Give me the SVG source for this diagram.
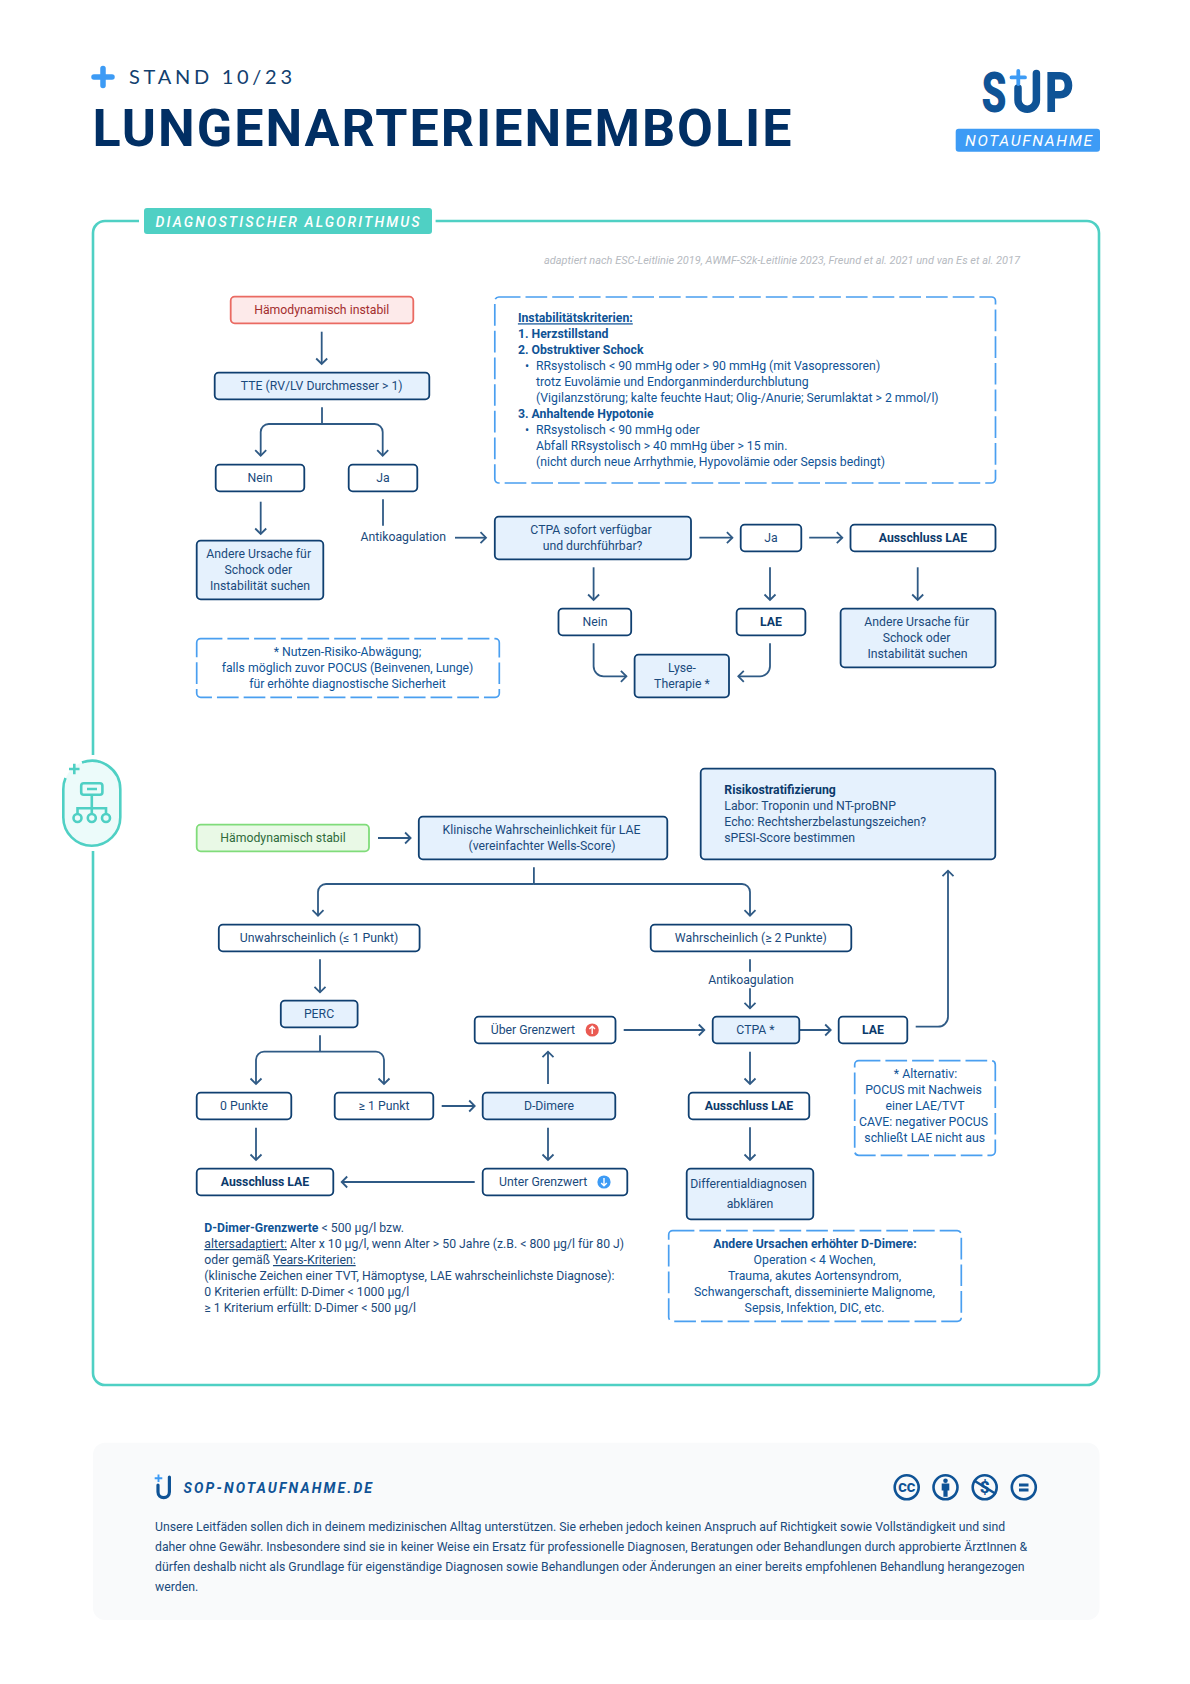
<svg xmlns="http://www.w3.org/2000/svg" width="1190" height="1684" viewBox="0 0 1190 1684">
<style>
text{font-family:Roboto,"Liberation Sans",sans-serif;font-size:12.25px;fill:#1a4a7c}
.c{text-anchor:middle}
.b{font-weight:700}
.d{fill:#0b3a6b}
.n{fill:#0f5396}
.box{fill:#fff;stroke:#0f3f70;stroke-width:1.8}
.fill{fill:#e5f1fd;stroke:#0f3f70;stroke-width:1.8}
.dash{fill:#fff;stroke:#4a9ff0;stroke-width:1.7;stroke-dasharray:21.7 5}
.conn path{fill:none;stroke:#2f5a85;stroke-width:1.8;marker-end:url(#a)}
.conn path.p{marker-end:none}
.teal{fill:none;stroke:#4fd0c4;stroke-width:2.6}
.ic{fill:none;stroke:#0f5396;stroke-width:2.6}
.u{text-decoration:underline}
</style>
<defs>
<marker id="a" markerUnits="userSpaceOnUse" markerWidth="16" markerHeight="16" refX="8" refY="8" orient="auto"><path d="M2.5 2.5L8 8L2.5 13.5" fill="none" stroke="#2f5a85" stroke-width="1.8"/></marker>
</defs>
<rect width="1190" height="1684" fill="#fff"/>

<g id="header">
<path d="M103 68.5V85.5M94 77H112" fill="none" stroke="#3d9bf5" stroke-width="5.5" stroke-linecap="round"/>
<text x="129" y="84.3" textLength="163" style="font-family:Lato,Roboto,sans-serif;font-size:20px;fill:#12406f">STAND 10/23</text>
<text x="92.5" y="146" textLength="699" style="font-size:52px;font-weight:700;fill:#012f64">LUNGENARTERIENEMBOLIE</text>
</g>
<g id="logo">
<text x="981.5" y="112.3" textLength="25" lengthAdjust="spacingAndGlyphs" style="font-size:56px;font-weight:900;fill:#0f5396">S</text>
<text x="1045" y="112.3" textLength="29" lengthAdjust="spacingAndGlyphs" style="font-size:56px;font-weight:900;fill:#0f5396">P</text>
<path d="M1018 88V100a9.2 9.2 0 0 0 18.4 0V73.5" fill="none" stroke="#0f5396" stroke-width="7.5" stroke-linecap="round"/>
<path d="M1018.3 71V84M1011.5 77.4H1025" fill="none" stroke="#3d9bf5" stroke-width="3.8" stroke-linecap="round"/>
<rect x="955.7" y="128.7" width="144.3" height="23" rx="3" fill="#3d9bf5"/>
<text x="965" y="146" textLength="127" style="font-size:15.5px;font-style:italic;font-weight:400;fill:#fff">NOTAUFNAHME</text>
</g>

<g id="frame">
<path class="teal" d="M139 221H105a12 12 0 0 0-12 12V1373a12 12 0 0 0 12 12H1087a12 12 0 0 0 12-12V233a12 12 0 0 0-12-12H435.6"/>
<rect x="144" y="208" width="288" height="26" rx="3" fill="#4fd0c4"/>
<text x="155.6" y="226.5" textLength="264" style="font-size:14px;font-style:italic;font-weight:500;fill:#fff">DIAGNOSTISCHER ALGORITHMUS</text>
<text x="544" y="263.8" textLength="476" lengthAdjust="spacingAndGlyphs" style="font-size:11.5px;font-style:italic;font-weight:400;fill:#b6babf">adaptiert nach ESC-Leitlinie 2019, AWMF-S2k-Leitlinie 2023, Freund et al. 2021 und van Es et al. 2017</text>
</g>

<g id="side-icon">
<rect x="58" y="755" width="70" height="96" fill="#fff"/>
<rect x="63.3" y="760.7" width="57" height="85" rx="28.5" fill="#ecfbfa"/>
<path class="teal" d="M82 762.5A28.5 28.5 0 0 1 120.3 789.2V817.2A28.5 28.5 0 0 1 63.3 817.2V789.2Q63.3 783 65.5 778"/>
<path d="M69 769H79.5M74.3 763.7V774.3" fill="none" stroke="#4fd0c4" stroke-width="2.6"/>
<rect class="teal" x="81.2" y="783.3" width="21.2" height="11.4" rx="2.5"/>
<path class="teal" d="M87 789H97M91.8 795V814M77.5 814V808.3H106V814"/>
<circle class="teal" cx="77.5" cy="818" r="4"/><circle class="teal" cx="91.8" cy="818" r="4"/><circle class="teal" cx="106" cy="818" r="4"/>
</g>

<g id="connectors" class="conn">
<path d="M321.7 331.7V364"/>
<path d="M322 407.3V424" class="p"/>
<path d="M322 424H268.7a8 8 0 0 0-8 8V455.7"/>
<path d="M322 424H374.7a8 8 0 0 1 8 8V455.7"/>
<path d="M260.7 501.7V534"/>
<path d="M383 499.3V525.7" class="p"/>
<path d="M455 537.7H486"/>
<path d="M699.4 537.7H732.4"/>
<path d="M809.2 537.7H842.3"/>
<path d="M593.6 567.3V600"/>
<path d="M770 567.3V600"/>
<path d="M917.7 567.3V600"/>
<path d="M593.6 643.3V666.3a10 10 0 0 0 10 10H626.4"/>
<path d="M770 643.3V666.3a10 10 0 0 1-10 10H738.3"/>
<path d="M378 838H410.6"/>
<path d="M533.9 867.3V884" class="p"/>
<path d="M533.9 884H326a8 8 0 0 0-8 8V915.7"/>
<path d="M533.9 884H742a8 8 0 0 1 8 8V915.7"/>
<path d="M320 959.3V992.3"/>
<path d="M320 1035.3V1051.7" class="p"/>
<path d="M320 1051.7H264a8 8 0 0 0-8 8V1084"/>
<path d="M320 1051.7H376a8 8 0 0 1 8 8V1084"/>
<path d="M256 1127.7V1160"/>
<path d="M441.7 1106H474.7"/>
<path d="M548 1084V1051.7"/>
<path d="M548 1127.7V1160"/>
<path d="M474.7 1182H341.7"/>
<path d="M623.7 1030H704.3"/>
<path d="M750 959.3V971.7" class="p"/>
<path d="M750 988.3V1008.3"/>
<path d="M797.7 1030H830.7"/>
<path d="M915.7 1026.7H938a10 10 0 0 0 10-10V870.7"/>
<path d="M750 1051.7V1084"/>
<path d="M750 1127.3V1160"/>
</g>

<g id="n-instabil"><rect x="230.7" y="296.7" width="182.6" height="26.6" rx="4" fill="#fdeaea" stroke="#ea6a62" stroke-width="1.8"/><text class="c" x="321.7" y="313.8" style="fill:#a32e2e">Hämodynamisch instabil</text></g>
<g id="n-tte"><rect class="fill" x="214.7" y="372.7" width="214.6" height="26.6" rx="4"/><text class="c" x="321.7" y="389.8">TTE (RV/LV Durchmesser &gt; 1)</text></g>
<g id="n-nein1"><rect class="box" x="215.7" y="464.7" width="88.6" height="26.6" rx="4"/><text class="c" x="260" y="481.8">Nein</text></g>
<g id="n-ja1"><rect class="box" x="348.7" y="464.7" width="68.6" height="26.6" rx="4"/><text class="c" x="383" y="481.8">Ja</text></g>
<g id="n-antikoag1"><text class="c" x="403.3" y="541">Antikoagulation</text></g>
<g id="n-ursache1"><rect class="fill" x="196.7" y="540.7" width="126.6" height="58.6" rx="4"/><text class="c" x="258.7" y="558">Andere Ursache für</text><text class="c" x="258.3" y="574">Schock oder</text><text class="c" x="260" y="590">Instabilität suchen</text></g>
<g id="n-nutzen"><rect class="dash" x="196.7" y="638.7" width="302.6" height="58.6" rx="4"/><text class="c n" x="347.5" y="656">* Nutzen-Risiko-Abwägung;</text><text class="c n" x="347.5" y="672">falls möglich zuvor POCUS (Beinvenen, Lunge)</text><text class="c n" x="347.5" y="688">für erhöhte diagnostische Sicherheit</text></g>
<g id="n-kriterien"><rect class="dash" x="494.8" y="297" width="500.7" height="186" rx="4"/>
<text class="b n" x="517.9" y="322.3"><tspan class="u">Instabilitätskriterien:</tspan></text>
<text class="b n" x="517.9" y="338.3">1. Herzstillstand</text>
<text class="b n" x="517.9" y="354.3">2. Obstruktiver Schock</text>
<text class="n" x="525" y="370.3">•</text><text class="n" x="536" y="370.3">RRsystolisch &lt; 90 mmHg oder &gt; 90 mmHg (mit Vasopressoren)</text>
<text class="n" x="536" y="386.3">trotz Euvolämie und Endorganminderdurchblutung</text>
<text class="n" x="536" y="402.3">(Vigilanzstörung; kalte feuchte Haut; Olig-/Anurie; Serumlaktat &gt; 2 mmol/l)</text>
<text class="b n" x="517.9" y="418.3">3. Anhaltende Hypotonie</text>
<text class="n" x="525" y="434.3">•</text><text class="n" x="536" y="434.3">RRsystolisch &lt; 90 mmHg oder</text>
<text class="n" x="536" y="450.3">Abfall RRsystolisch &gt; 40 mmHg über &gt; 15 min.</text>
<text class="n" x="536" y="466.3">(nicht durch neue Arrhythmie, Hypovolämie oder Sepsis bedingt)</text></g>
<g id="n-ctpa1"><rect class="fill" x="494.8" y="516.7" width="196.2" height="42.6" rx="4"/><text class="c" x="591" y="534">CTPA sofort verfügbar</text><text class="c" x="592.5" y="550">und durchführbar?</text></g>
<g id="n-ja2"><rect class="box" x="740.7" y="524.7" width="60.6" height="26.6" rx="4"/><text class="c" x="771" y="541.8">Ja</text></g>
<g id="n-ausschluss1"><rect class="box" x="850.5" y="524.7" width="145" height="26.6" rx="4"/><text class="c b d" x="923" y="541.8">Ausschluss LAE</text></g>
<g id="n-nein2"><rect class="box" x="558.5" y="608.7" width="72.7" height="26.6" rx="4"/><text class="c" x="595" y="625.8">Nein</text></g>
<g id="n-lae1"><rect class="box" x="736.6" y="608.7" width="68.8" height="26.6" rx="4"/><text class="c b d" x="771" y="625.8">LAE</text></g>
<g id="n-ursache2"><rect class="fill" x="840.6" y="608.7" width="154.9" height="58.6" rx="4"/><text class="c" x="916.7" y="626">Andere Ursache für</text><text class="c" x="916.5" y="642">Schock oder</text><text class="c" x="917.5" y="658">Instabilität suchen</text></g>
<g id="n-lyse"><rect class="fill" x="634.6" y="654.7" width="94.4" height="42.6" rx="4"/><text class="c" x="682" y="672">Lyse-</text><text class="c" x="682" y="688">Therapie *</text></g>

<g id="n-stabil"><rect x="196.7" y="824.7" width="172.3" height="26.6" rx="4" fill="#e9f9e6" stroke="#80dc7a" stroke-width="1.8"/><text class="c" x="283" y="841.8" style="fill:#2f6b3a">Hämodynamisch stabil</text></g>
<g id="n-wells"><rect class="fill" x="418.8" y="816.7" width="248.5" height="42.6" rx="4"/><text class="c" x="541.5" y="834">Klinische Wahrscheinlichkeit für LAE</text><text class="c" x="542" y="850">(vereinfachter Wells-Score)</text></g>
<g id="n-risiko"><rect class="fill" x="700.7" y="768.7" width="294.6" height="90.6" rx="4"/><text class="b d" x="724.3" y="794.3">Risikostratifizierung</text><text x="724.3" y="810">Labor: Troponin und NT-proBNP</text><text x="724.3" y="826">Echo: Rechtsherzbelastungszeichen?</text><text x="724.3" y="842">sPESI-Score bestimmen</text></g>
<g id="n-unw"><rect class="box" x="218.8" y="924.7" width="200.8" height="26.6" rx="4"/><text class="c" x="319" y="941.8">Unwahrscheinlich (≤ 1 Punkt)</text></g>
<g id="n-wahr"><rect class="box" x="650.7" y="924.7" width="200.6" height="26.6" rx="4"/><text class="c" x="750.8" y="941.8">Wahrscheinlich (≥ 2 Punkte)</text></g>
<g id="n-antikoag2"><text class="c" x="751" y="984.3">Antikoagulation</text></g>
<g id="n-perc"><rect class="fill" x="280.8" y="1000.7" width="76.8" height="26.6" rx="4"/><text class="c" x="319" y="1017.8">PERC</text></g>
<g id="n-ueber"><rect class="box" x="474.7" y="1016.7" width="140.8" height="26.6" rx="4"/><text x="490.7" y="1033.8">Über Grenzwert</text><circle cx="592.2" cy="1030" r="6.6" fill="#ea5a52"/><path d="M592.2 1034V1026.5M589.4 1029L592.2 1026.2L595 1029" fill="none" stroke="#fff" stroke-width="1.4"/></g>
<g id="n-ctpa2"><rect class="fill" x="712.7" y="1016.7" width="86.6" height="26.6" rx="4"/><text class="c" x="755.5" y="1033.8">CTPA *</text></g>
<g id="n-lae2"><rect class="box" x="838.7" y="1016.7" width="68.6" height="26.6" rx="4"/><text class="c b d" x="873" y="1033.8">LAE</text></g>
<g id="n-alternativ"><rect class="dash" x="854.7" y="1060.7" width="140.6" height="94.6" rx="4"/><text class="c n" x="925.5" y="1078">* Alternativ:</text><text class="c n" x="923.5" y="1094">POCUS mit Nachweis</text><text class="c n" x="925" y="1110">einer LAE/TVT</text><text class="c n" x="923.5" y="1126">CAVE: negativer POCUS</text><text class="c n" x="924.7" y="1142">schließt LAE nicht aus</text></g>
<g id="n-0p"><rect class="box" x="196.7" y="1092.7" width="94.6" height="26.6" rx="4"/><text class="c" x="244" y="1109.8">0 Punkte</text></g>
<g id="n-1p"><rect class="box" x="334.7" y="1092.7" width="98.6" height="26.6" rx="4"/><text class="c" x="384" y="1109.8">≥ 1 Punkt</text></g>
<g id="n-ddimere"><rect class="fill" x="482.7" y="1092.7" width="132.6" height="26.6" rx="4"/><text class="c" x="549" y="1109.8">D-Dimere</text></g>
<g id="n-ausschluss2"><rect class="box" x="688.7" y="1092.7" width="120.6" height="26.6" rx="4"/><text class="c b d" x="749" y="1109.8">Ausschluss LAE</text></g>
<g id="n-ausschluss3"><rect class="box" x="196.7" y="1168.7" width="136.6" height="26.6" rx="4"/><text class="c b d" x="265" y="1185.8">Ausschluss LAE</text></g>
<g id="n-unter"><rect class="box" x="482.7" y="1168.7" width="144.6" height="26.6" rx="4"/><text x="499" y="1185.8">Unter Grenzwert</text><circle cx="604" cy="1182" r="6.6" fill="#3d9bf5"/><path d="M604 1178V1185.5M601.2 1183L604 1185.8L606.8 1183" fill="none" stroke="#fff" stroke-width="1.4"/></g>
<g id="n-diff"><rect class="fill" x="686.7" y="1168.7" width="126.6" height="50.6" rx="4"/><text class="c" x="748.5" y="1188">Differentialdiagnosen</text><text class="c" x="750" y="1208">abklären</text></g>
<g id="n-grenzwerte">
<text x="204.3" y="1232"><tspan class="b n">D-Dimer-Grenzwerte</tspan> &lt; 500 µg/l bzw.</text>
<text x="204.3" y="1248"><tspan class="u">altersadaptiert:</tspan> Alter x 10 µg/l, wenn Alter &gt; 50 Jahre (z.B. &lt; 800 µg/l für 80 J)</text>
<text x="204.3" y="1264">oder gemäß <tspan class="u">Years-Kriterien:</tspan></text>
<text x="204.3" y="1280">(klinische Zeichen einer TVT, Hämoptyse, LAE wahrscheinlichste Diagnose):</text>
<text x="204.3" y="1296">0 Kriterien erfüllt: D-Dimer &lt; 1000 µg/l</text>
<text x="204.3" y="1312">≥ 1 Kriterium erfüllt: D-Dimer &lt; 500 µg/l</text></g>
<g id="n-ursachen"><rect class="dash" x="668.7" y="1230.7" width="292.6" height="90.6" rx="4"/><text class="c b n" x="815" y="1248.3">Andere Ursachen erhöhter D-Dimere:</text><text class="c n" x="814.5" y="1264.3">Operation &lt; 4 Wochen,</text><text class="c n" x="814.5" y="1280.3">Trauma, akutes Aortensyndrom,</text><text class="c n" x="814.5" y="1296.3">Schwangerschaft, disseminierte Malignome,</text><text class="c n" x="814.5" y="1312.3">Sepsis, Infektion, DIC, etc.</text></g>

<g id="footer">
<rect x="93" y="1442.7" width="1006.5" height="177.3" rx="12" fill="#f9fafb"/>
<path d="M158 1485V1492a5.7 5.7 0 0 0 11.4 0V1477" fill="none" stroke="#0f5396" stroke-width="3.2" stroke-linecap="round"/>
<path d="M158.5 1474.5V1482M154.7 1478.2H162.3" fill="none" stroke="#3d9bf5" stroke-width="1.9"/>
<text x="183.5" y="1493" textLength="188.5" style="font-size:14px;font-weight:700;font-style:italic;fill:#0f5396">SOP-NOTAUFNAHME.DE</text>
<circle class="ic" cx="906.7" cy="1487.3" r="12"/><text class="c b n" x="906.7" y="1492" style="font-size:13px;font-weight:900">CC</text>
<circle class="ic" cx="945.5" cy="1487.3" r="12"/><circle cx="945.5" cy="1480.7" r="2.3" fill="#0f5396"/><path d="M941.7 1483.5H949.3V1490.5H947.6V1496.7H943.4V1490.5H941.7Z" fill="#0f5396"/>
<circle class="ic" cx="984.7" cy="1487.3" r="12"/><text class="c b n" x="984.7" y="1493.3" style="font-size:17px;font-weight:900">$</text><path class="ic" d="M974 1480.5L996 1494"/>
<circle class="ic" cx="1023.8" cy="1487.3" r="12"/><path d="M1019 1485H1028.5M1019 1490H1028.5" fill="none" stroke="#0f5396" stroke-width="2.8"/>
<text x="155" y="1531.3">Unsere Leitfäden sollen dich in deinem medizinischen Alltag unterstützen. Sie erheben jedoch keinen Anspruch auf Richtigkeit sowie Vollständigkeit und sind</text>
<text x="155" y="1551.3">daher ohne Gewähr. Insbesondere sind sie in keiner Weise ein Ersatz für professionelle Diagnosen, Beratungen oder Behandlungen durch approbierte ÄrztInnen &amp;</text>
<text x="155" y="1571.3">dürfen deshalb nicht als Grundlage für eigenständige Diagnosen sowie Behandlungen oder Änderungen an einer bereits empfohlenen Behandlung herangezogen</text>
<text x="155" y="1591.3">werden.</text>
</g>
</svg>
